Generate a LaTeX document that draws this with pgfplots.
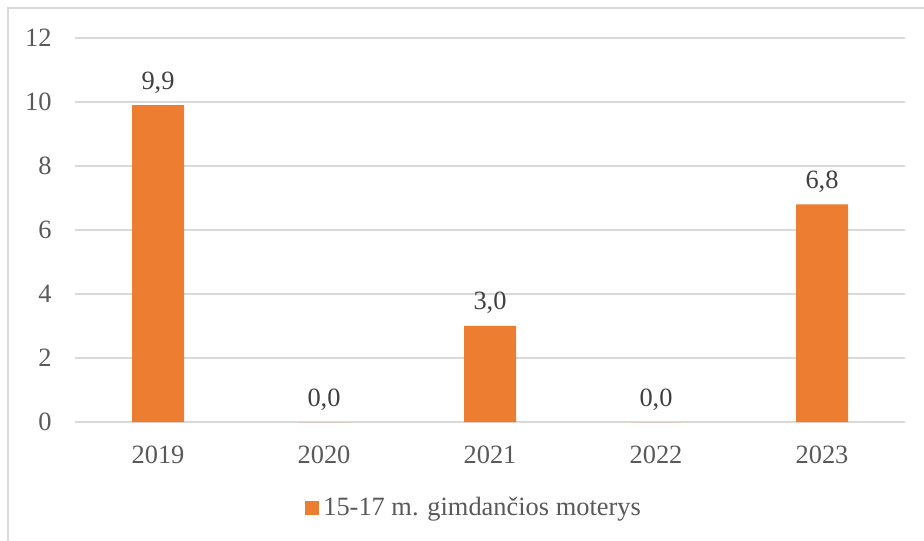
\documentclass[border=0pt]{standalone}
\usepackage{fontspec}
\setmainfont{Liberation Serif}
\usepackage{pgfplots}
\pgfplotsset{compat=1.18}
\definecolor{barorange}{HTML}{ED7D31}
\definecolor{gridgray}{HTML}{D9D9D9}
\definecolor{ticktext}{HTML}{595959}
\definecolor{labeltext}{HTML}{404040}
\begin{document}
\fontsize{13.2}{15}\selectfont
\begin{tikzpicture}
% page = 924 x 540 px, 1 px = 0.5 pt
\path[use as bounding box] (0pt,0pt) rectangle (462pt,270pt);
\draw[gridgray, line width=0.9pt] (4pt,-20pt) -- (4pt,266pt) -- (480pt,266pt);
\begin{axis}[
    at={(37.5pt,59pt)}, anchor=south west,
    scale only axis,
    width=415pt, height=192pt,
    xmin=-0.5, xmax=4.5,
    ymin=0, ymax=12,
    xtick={0,1,2,3,4},
    xticklabels={2019,2020,2021,2022,2023},
    ytick={0,2,...,12},
    axis line style={draw=none},
    major tick length=0pt,
    ymajorgrids,
    grid style={gridgray, line width=0.75pt},
    /pgf/number format/assume math mode=true,
    tick label style={font=\fontsize{13.2}{15}\selectfont, text=ticktext},
    xticklabel style={anchor=base, inner sep=0pt, yshift=-20.5pt},
    yticklabel style={anchor=east, inner sep=0pt, xshift=-11.5pt},
    ybar, bar width=26pt,
    nodes near coords,
    nodes near coords style={font=\fontsize{13.2}{15}\selectfont, text=labeltext,
        anchor=base, inner sep=0pt, yshift=8pt,
        /pgf/number format/.cd, fixed, fixed zerofill, precision=1, use comma},
    legend style={at={(0.482,-0.224)}, anchor=center, draw=none, fill=none,
        font=\fontsize{13.2}{15}\selectfont, text=ticktext,
        inner sep=0pt, legend cell align=left},
    legend image code/.code={\fill[barorange] (0pt,-3.5pt) rectangle (7pt,3.5pt);},
]
\addplot[fill=barorange, draw=none] coordinates {
    (0,9.9) (1,0) (2,3.0) (3,0) (4,6.8)
};
\addlegendentry{15-17 m. gimdančios moterys}
\end{axis}
\end{tikzpicture}
\end{document}
